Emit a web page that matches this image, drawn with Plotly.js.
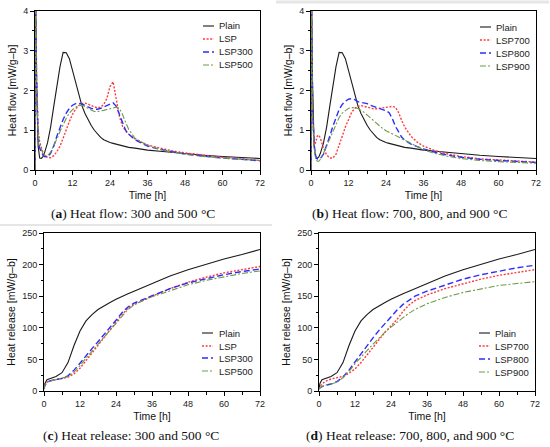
<!DOCTYPE html>
<html>
<head>
<meta charset="utf-8">
<script src="https://cdn.plot.ly/plotly-3.0.1.min.js"></script>
<style>html,body{margin:0;padding:0;background:#fff;}#chart{width:550px;height:447px;}</style>
</head>
<body>
<div id="chart"></div>
<script>
// ---------- DATA ----------
const tFlow = [0, 0.15, 0.5, 1, 1.5, 2, 2.5, 3, 4, 5, 6, 7, 8, 9, 10, 11, 12, 13, 14, 15, 16, 17, 18, 19, 20, 21, 22, 23, 24, 25, 26, 27, 28, 29, 30, 32, 34, 36, 40, 44, 48, 54, 60, 66, 72];
const flowPlain  = [0, 4.5, 2.2, 0.6, 0.3, 0.29, 0.33, 0.42, 0.68, 1.08, 1.6, 2.12, 2.6, 2.96, 2.95, 2.8, 2.5, 2.15, 1.85, 1.62, 1.42, 1.26, 1.12, 1.0, 0.9, 0.82, 0.76, 0.72, 0.69, 0.67, 0.65, 0.63, 0.61, 0.59, 0.57, 0.55, 0.52, 0.5, 0.47, 0.44, 0.41, 0.37, 0.34, 0.31, 0.29];
const flowLSP    = [0, 4.5, 2.5, 1.0, 0.7, 0.55, 0.45, 0.38, 0.32, 0.31, 0.36, 0.46, 0.6, 0.8, 1.02, 1.22, 1.4, 1.53, 1.62, 1.67, 1.68, 1.66, 1.62, 1.58, 1.56, 1.58, 1.65, 1.8, 2.1, 2.22, 1.75, 1.35, 1.1, 0.98, 0.9, 0.78, 0.7, 0.63, 0.55, 0.48, 0.43, 0.37, 0.32, 0.28, 0.24];
const flowLSP300 = [0, 4.5, 2.3, 0.8, 0.55, 0.45, 0.38, 0.34, 0.33, 0.42, 0.6, 0.85, 1.08, 1.27, 1.43, 1.55, 1.63, 1.67, 1.68, 1.66, 1.62, 1.58, 1.55, 1.53, 1.53, 1.55, 1.58, 1.62, 1.66, 1.69, 1.6, 1.4, 1.15, 1.0, 0.9, 0.76, 0.68, 0.6, 0.52, 0.46, 0.4, 0.35, 0.3, 0.27, 0.23];
const flowLSP500 = [0, 4.5, 2.0, 0.9, 0.65, 0.5, 0.42, 0.37, 0.36, 0.45, 0.6, 0.78, 0.97, 1.15, 1.3, 1.43, 1.52, 1.58, 1.62, 1.63, 1.6, 1.55, 1.5, 1.47, 1.47, 1.48, 1.5, 1.52, 1.54, 1.56, 1.58, 1.55, 1.4, 1.2, 1.02, 0.8, 0.7, 0.62, 0.52, 0.45, 0.4, 0.34, 0.3, 0.27, 0.24];
const flowLSP700 = [0, 4.5, 1.5, 0.62, 0.7, 0.85, 0.88, 0.8, 0.55, 0.38, 0.3, 0.3, 0.4, 0.6, 0.85, 1.08, 1.27, 1.45, 1.55, 1.6, 1.62, 1.6, 1.57, 1.55, 1.54, 1.54, 1.55, 1.56, 1.57, 1.59, 1.6, 1.58, 1.45, 1.25, 1.08, 0.85, 0.7, 0.6, 0.48, 0.4, 0.34, 0.28, 0.25, 0.22, 0.2];
const flowLSP800 = [0, 4.5, 1.6, 0.65, 0.35, 0.28, 0.27, 0.29, 0.4, 0.6, 0.85, 1.1, 1.33, 1.52, 1.65, 1.73, 1.78, 1.8, 1.77, 1.72, 1.7, 1.69, 1.67, 1.63, 1.6, 1.57, 1.54, 1.51, 1.49, 1.44, 1.3, 1.1, 0.95, 0.83, 0.75, 0.65, 0.59, 0.53, 0.44, 0.37, 0.32, 0.27, 0.24, 0.21, 0.19];
const flowLSP900 = [0, 4.5, 1.4, 0.55, 0.3, 0.22, 0.22, 0.27, 0.42, 0.6, 0.8, 1.0, 1.17, 1.32, 1.43, 1.5, 1.55, 1.57, 1.57, 1.55, 1.51, 1.45, 1.38, 1.31, 1.24, 1.17, 1.1, 1.04, 0.99, 0.95, 0.91, 0.88, 0.84, 0.8, 0.75, 0.66, 0.58, 0.51, 0.41, 0.34, 0.29, 0.24, 0.21, 0.19, 0.17];

const tRel = [0, 0.3, 1, 2, 4, 6, 8, 10, 12, 14, 16, 18, 20, 22, 24, 26, 28, 30, 32, 36, 42, 48, 54, 60, 66, 72];
const relPlain  = [3, 12, 18, 20, 23, 29, 45, 72, 95, 111, 121, 129, 135, 140, 145, 150, 154, 158, 162, 171, 182, 192, 201, 209, 216, 224];
const relLSP    = [3, 9, 14, 16, 18, 20, 22, 27, 36, 48, 60, 72, 85, 97, 109, 121, 131, 137, 141, 150, 162, 172, 180, 187, 192, 197];
const relLSP300 = [3, 9, 14, 16, 18, 20, 24, 33, 44, 56, 67, 78, 89, 100, 112, 124, 133, 139, 143, 151, 162, 171, 178, 184, 189, 193];
const relLSP500 = [3, 9, 14, 16, 18, 20, 23, 30, 40, 52, 63, 74, 85, 96, 107, 119, 129, 136, 141, 149, 159, 168, 175, 181, 186, 190];
const relLSP700 = [3, 7, 11, 15, 19, 21, 23, 28, 35, 45, 57, 70, 82, 93, 103, 113, 126, 136, 143, 152, 162, 170, 177, 183, 188, 192];
const relLSP800 = [3, 5, 7, 9, 11, 15, 22, 33, 46, 59, 72, 84, 96, 107, 118, 128, 137, 144, 150, 158, 168, 177, 184, 190, 195, 199];
const relLSP900 = [3, 5, 7, 9, 11, 14, 21, 31, 43, 54, 64, 74, 84, 93, 101, 109, 116, 123, 129, 138, 148, 156, 162, 167, 170, 173];

const xTicks = [0, 12, 24, 36, 48, 60, 72];
const namesLow  = ["Plain", "LSP", "LSP300", "LSP500"];
const namesHigh = ["Plain", "LSP700", "LSP800", "LSP900"];
const captions = [
  "(<b>a</b>) Heat flow: 300 and 500 °C",
  "(<b>b</b>) Heat flow: 700, 800, and 900 °C",
  "(<b>c</b>) Heat release: 300 and 500 °C",
  "(<b>d</b>) Heat release: 700, 800, and 900 °C"
];

// ---------- STYLE ----------
const W = 550, H = 447;
const styles = [
  {color: "#1a1a1a", width: 1.1, dash: "solid"},
  {color: "#ff3b3b", width: 1.4, dash: "2px,1.6px"},
  {color: "#2d2dff", width: 1.4, dash: "6px,3px"},
  {color: "#6e9a45", width: 1.1, dash: "6px,2px,2px,2px"}
];
const px = x => x / W;
const py = y => 1 - y / H;

const panels = [
  {ax: "", t: tFlow, ys: [flowPlain, flowLSP, flowLSP300, flowLSP500], names: namesLow,
   box: [35, 260, 11, 170], range: [0, 4], dtick: 1, ytitle: "Heat flow [mW/g–b]",
   leg: {x1: 203, x2: 214, tx: 217, rows: [26, 39, 52, 65]}, cap: [133, 213]},
  {ax: "2", t: tFlow, ys: [flowPlain, flowLSP700, flowLSP800, flowLSP900], names: namesHigh,
   box: [311, 536, 11, 170], range: [0, 4], dtick: 1, ytitle: "Heat flow [mW/g–b]",
   leg: {x1: 480, x2: 491, tx: 494, rows: [27, 40, 53, 66]}, cap: [410, 213]},
  {ax: "3", t: tRel, ys: [relPlain, relLSP, relLSP300, relLSP500], names: namesLow,
   box: [44, 260, 233, 391], range: [0, 250], dtick: 50, ytitle: "Heat release [mW/g–b]",
   leg: {x1: 202, x2: 213, tx: 217, rows: [333, 346, 358, 371]}, cap: [131, 435]},
  {ax: "4", t: tRel, ys: [relPlain, relLSP700, relLSP800, relLSP900], names: namesHigh,
   box: [319, 535, 233, 391], range: [0, 250], dtick: 50, ytitle: "Heat release [mW/g–b]",
   leg: {x1: 479, x2: 490, tx: 493, rows: [333, 346, 359, 372]}, cap: [410, 435]}
];

const traces = [];
const layout = {
  width: W, height: H,
  margin: {l: 0, r: 0, t: 0, b: 0},
  paper_bgcolor: "#fff", plot_bgcolor: "#fff",
  showlegend: false,
  font: {family: "Liberation Sans, Arial, sans-serif", size: 9, color: "#222"},
  shapes: [
    {type: "line", xref: "paper", yref: "paper", x0: 0, x1: px(272), y0: py(225), y1: py(225), line: {color: "#e6e6e6", width: 2}},
    {type: "line", xref: "paper", yref: "paper", x0: px(276), x1: px(549), y0: py(2), y1: py(2), line: {color: "#e6e6e6", width: 3}}
  ],
  annotations: []
};

const axisFont = {family: "Liberation Sans, Arial, sans-serif", size: 9, color: "#222"};
const titleFont = {family: "Liberation Sans, Arial, sans-serif", size: 10.5, color: "#111"};

panels.forEach(p => {
  p.ys.forEach((y, i) => {
    traces.push({
      x: p.t, y: y, name: p.names[i], type: "scatter", mode: "lines",
      xaxis: "x" + p.ax, yaxis: "y" + p.ax,
      line: {color: styles[i].color, width: styles[i].width, dash: styles[i].dash},
      hoverinfo: "skip"
    });
  });
  const [l, r, t, b] = p.box;
  layout["xaxis" + p.ax] = {
    domain: [px(l), px(r)], anchor: "y" + p.ax, range: [0, 72],
    tickmode: "array", tickvals: xTicks, ticks: "outside", ticklen: 4, tickwidth: 1, tickcolor: "#000",
    minor: {dtick: 6, tick0: 0, ticks: "outside", ticklen: 2.5, tickcolor: "#000"},
    showline: true, mirror: true, linecolor: "#000", linewidth: 1,
    showgrid: false, zeroline: false, tickfont: axisFont,
    title: {text: "Time [h]", font: titleFont, standoff: 4}, automargin: false
  };
  layout["yaxis" + p.ax] = {
    domain: [py(b), py(t)], anchor: "x" + p.ax, range: p.range,
    dtick: p.dtick, tick0: 0, ticks: "outside", ticklen: 4, tickwidth: 1, tickcolor: "#000",
    minor: {dtick: p.dtick / 2, ticks: "outside", ticklen: 2.5, tickcolor: "#000"},
    showline: true, mirror: true, linecolor: "#000", linewidth: 1,
    showgrid: false, zeroline: false, tickfont: axisFont,
    title: {text: p.ytitle, font: titleFont, standoff: 4}, automargin: false
  };
  // legend (manual key)
  p.names.forEach((n, i) => {
    const yy = p.leg.rows[i];
    layout.shapes.push({type: "line", xref: "paper", yref: "paper",
      x0: px(p.leg.x1), x1: px(p.leg.x2), y0: py(yy), y1: py(yy),
      line: {color: styles[i].color, width: styles[i].width, dash: styles[i].dash}});
    layout.annotations.push({xref: "paper", yref: "paper", x: px(p.leg.tx), y: py(yy),
      xanchor: "left", yanchor: "middle", showarrow: false, text: n,
      font: {family: "Liberation Sans, Arial, sans-serif", size: 9.5, color: "#222"}});
  });
});

captions.forEach((c, i) => {
  const p = panels[i];
  layout.annotations.push({xref: "paper", yref: "paper", x: px(p.cap[0]), y: py(p.cap[1]),
    xanchor: "center", yanchor: "middle", showarrow: false, text: c,
    font: {family: "Liberation Serif, Times New Roman, serif", size: 13.5, color: "#111"}});
});

Plotly.newPlot("chart", traces, layout, {displayModeBar: false, staticPlot: true});
</script>
</body>
</html>
